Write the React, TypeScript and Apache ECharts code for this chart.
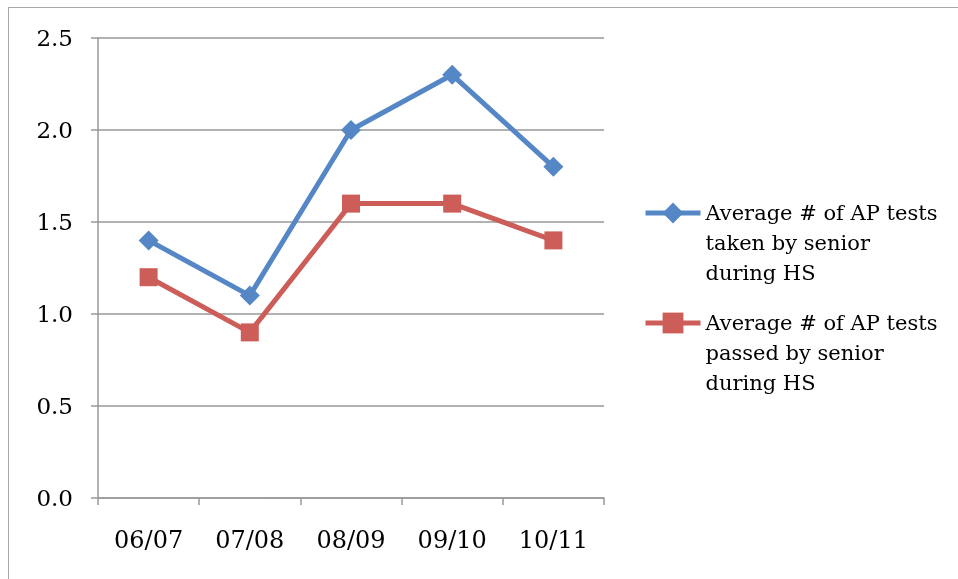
import React, { useEffect, useRef } from "react";
import * as echarts from "echarts";

const categories = ["06/07", "07/08", "08/09", "09/10", "10/11"];
const takenValues = [1.4, 1.1, 2.0, 2.3, 1.8];
const passedValues = [1.2, 0.9, 1.6, 1.6, 1.4];
const takenName = "Average # of AP tests\ntaken by senior\nduring HS";
const passedName = "Average # of AP tests\npassed by senior\nduring HS";

const BLUE = "#5587c6";
const RED = "#cc5d58";
const FONT = "DejaVu Serif";

export default function App() {
  const ref = useRef<HTMLDivElement>(null);
  useEffect(() => {
    if (!ref.current) return;
    const chart = echarts.init(ref.current, undefined, { renderer: "svg" });
    const legendBase = {
      orient: "vertical",
      left: 629,
      padding: 5,
      itemWidth: 55,
      itemHeight: 26,
      selectedMode: false,
      lineStyle: { width: 5 },
      formatter: (name: string) => "\n\n" + name,
      textStyle: {
        fontFamily: FONT,
        fontSize: 21,
        color: "#000",
        lineHeight: 30,
      },
    };
    chart.setOption({
      animation: false,
      grid: { left: 89, top: 30, right: 354, bottom: 81 },
      legend: [
        { ...legendBase, data: [takenName], top: 125 },
        { ...legendBase, data: [passedName], top: 235 },
      ],
      xAxis: {
        type: "category",
        data: categories,
        boundaryGap: true,
        axisLine: { lineStyle: { color: "#999", width: 1.5 } },
        axisTick: { show: true, length: 7, lineStyle: { color: "#999", width: 1.5 } },
        axisLabel: { fontFamily: FONT, fontSize: 24, color: "#000", margin: 30 },
      },
      yAxis: {
        type: "value",
        min: 0,
        max: 2.5,
        interval: 0.5,
        axisLine: { show: true, lineStyle: { color: "#999", width: 1.5 } },
        axisTick: { show: true, length: 7, lineStyle: { color: "#999", width: 1.5 } },
        splitLine: { lineStyle: { color: "#999", width: 1.5 } },
        axisLabel: {
          fontFamily: FONT,
          fontSize: 23,
          color: "#000",
          margin: 25,
          formatter: (v: number) => v.toFixed(1),
        },
      },
      series: [
        {
          name: takenName,
          type: "line",
          data: takenValues,
          symbol: "diamond",
          symbolSize: 20,
          lineStyle: { color: BLUE, width: 5 },
          itemStyle: { color: BLUE },
        },
        {
          name: passedName,
          type: "line",
          data: passedValues,
          symbol: "rect",
          symbolSize: 18,
          lineStyle: { color: RED, width: 5 },
          itemStyle: { color: RED },
        },
      ],
    });
    return () => chart.dispose();
  }, []);
  return (
    <div
      style={{
        position: "fixed",
        left: 8,
        top: 7,
        width: 1000,
        height: 600,
        overflow: "hidden",
        boxSizing: "border-box",
        borderTop: "1.5px solid #aaa",
        borderLeft: "1.5px solid #aaa",
      }}
    >
      <div ref={ref} style={{ position: "absolute", left: 0, top: 0, width: 949, height: 571 }} />
    </div>
  );
}
